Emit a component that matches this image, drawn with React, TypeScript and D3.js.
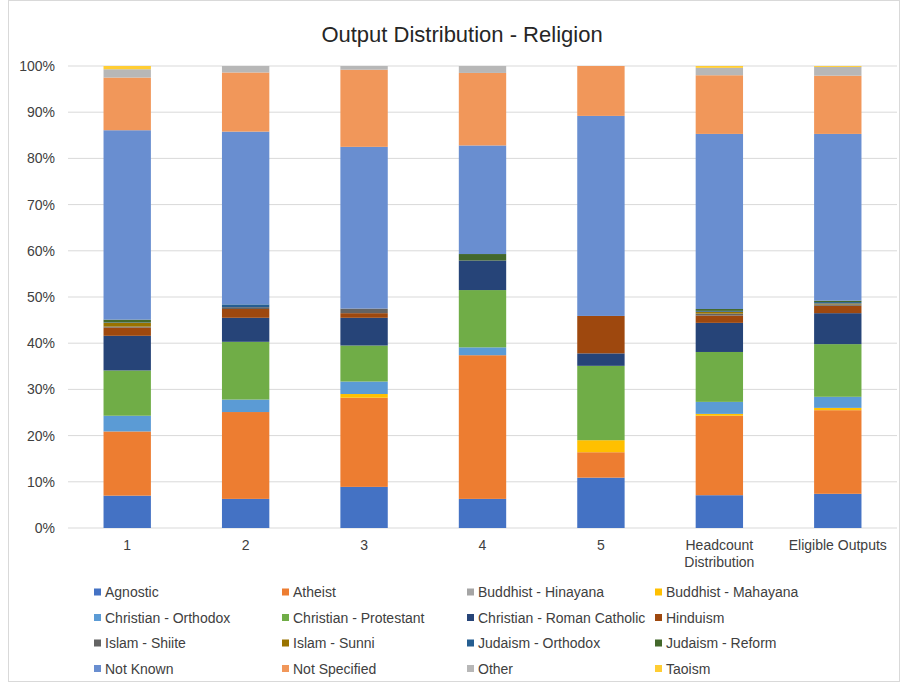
import { scaleBand, scaleLinear, stack } from "d3";

const categories = ["1", "2", "3", "4", "5", "Headcount Distribution", "Eligible Outputs"];
const religions = [
  "Agnostic", "Atheist", "Buddhist - Hinayana", "Buddhist - Mahayana",
  "Christian - Orthodox", "Christian - Protestant", "Christian - Roman Catholic", "Hinduism",
  "Islam - Shiite", "Islam - Sunni", "Judaism - Orthodox", "Judaism - Reform",
  "Not Known", "Not Specified", "Other", "Taoism",
];
const colors = [
  "#4472C4", "#ED7D31", "#A5A5A5", "#FFC000",
  "#5B9BD5", "#70AD47", "#264478", "#9E480E",
  "#636363", "#997300", "#255E91", "#43682B",
  "#698ED0", "#F1975A", "#B7B7B7", "#FFCD33",
];

// percentage per category, same order as categories
const agnostic = [7.0, 6.3, 8.9, 6.3, 10.9, 7.1, 7.4];
const atheist = [13.9, 18.8, 19.3, 31.1, 5.5, 17.2, 18.1];
const buddhistHinayana = [0, 0, 0, 0, 0, 0, 0];
const buddhistMahayana = [0, 0, 0.8, 0, 2.6, 0.4, 0.5];
const christianOrthodox = [3.4, 2.7, 2.7, 1.7, 0, 2.6, 2.4];
const christianProtestant = [9.8, 12.5, 7.8, 12.4, 16.1, 10.8, 11.4];
const christianRomanCatholic = [7.5, 5.2, 6.0, 6.4, 2.7, 6.3, 6.7];
const hinduism = [1.8, 1.9, 1.0, 0, 8.1, 1.6, 1.6];
const islamShiite = [0.2, 0.4, 1.0, 0, 0, 0.4, 0.3];
const islamSunni = [0.8, 0, 0, 0, 0, 0.4, 0.2];
const judaismOrthodox = [0.1, 0.6, 0, 0, 0, 0.2, 0.3];
const judaismReform = [0.6, 0, 0, 1.4, 0, 0.4, 0.3];
const notKnown = [41.0, 37.4, 35.0, 23.5, 43.3, 37.9, 36.1];
const notSpecified = [11.4, 12.8, 16.7, 15.7, 10.8, 12.7, 12.6];
const other = [1.8, 1.4, 0.8, 1.5, 0, 1.6, 1.9];
const taoism = [0.7, 0, 0, 0, 0, 0.4, 0.2];

const series = [
  agnostic, atheist, buddhistHinayana, buddhistMahayana,
  christianOrthodox, christianProtestant, christianRomanCatholic, hinduism,
  islamShiite, islamSunni, judaismOrthodox, judaismReform,
  notKnown, notSpecified, other, taoism,
];

const yTicks = [0, 10, 20, 30, 40, 50, 60, 70, 80, 90, 100];

const W = 903;
const H = 684;
const plot = { left: 68, right: 897, top: 66, bottom: 528 };
const font = "Arial, 'Liberation Sans', sans-serif";
const textColor = "#404040";

export default function App() {
  // one row per category, keyed by religion name
  const rows = categories.map((c, i) => {
    const row: Record<string, number | string> = { category: c };
    religions.forEach((r, j) => (row[r] = series[j][i]));
    return row;
  });
  const layers = stack<any>().keys(religions)(rows);

  const x = scaleBand<string>()
    .domain(categories)
    .range([plot.left, plot.right])
    .paddingInner(0.6)
    .paddingOuter(0.3);
  const y = scaleLinear().domain([0, 100]).range([plot.bottom, plot.top]);

  const legendCols = [94, 282, 467, 655];
  const legendRows = [592, 617.5, 643, 668.5];

  return (
    <svg width={W} height={H} style={{ position: "absolute", left: 0, top: 0, background: "#fff" }}>
      <rect x={8.5} y={0.5} width={891} height={681} fill="#fff" stroke="#d9d9d9" />
      <text x={462} y={41.5} textAnchor="middle" fontFamily={font} fontSize={22} fill="#262626">
        Output Distribution - Religion
      </text>

      {yTicks.map((t) => (
        <g key={t}>
          <line x1={plot.left} x2={plot.right} y1={y(t)} y2={y(t)} stroke="#d9d9d9" strokeWidth={1} />
          <text x={55} y={y(t) + 5} textAnchor="end" fontFamily={font} fontSize={14} fill={textColor}>
            {t}%
          </text>
        </g>
      ))}

      {layers.map((layer, j) => (
        <g key={layer.key} fill={colors[j]}>
          {layer.map((d, i) => {
            const h = y(d[0]) - y(d[1]);
            if (h <= 0) return null;
            return (
              <rect
                key={i}
                x={x(categories[i])}
                y={y(d[1])}
                width={x.bandwidth()}
                height={h}
              />
            );
          })}
        </g>
      ))}

      {categories.map((c) => {
        const cx = (x(c) ?? 0) + x.bandwidth() / 2;
        const lines = c === "Headcount Distribution" ? ["Headcount", "Distribution"] : [c];
        return (
          <text key={c} textAnchor="middle" fontFamily={font} fontSize={14} fill={textColor}>
            {lines.map((l, k) => (
              <tspan key={k} x={cx} y={550 + k * 17}>
                {l}
              </tspan>
            ))}
          </text>
        );
      })}

      {religions.map((r, j) => {
        const lx = legendCols[j % 4];
        const ly = legendRows[Math.floor(j / 4)];
        return (
          <g key={r}>
            <rect x={lx} y={ly - 3.5} width={7} height={7} fill={colors[j]} />
            <text x={lx + 11} y={ly + 5} fontFamily={font} fontSize={14} fill={textColor}>
              {r}
            </text>
          </g>
        );
      })}
    </svg>
  );
}
